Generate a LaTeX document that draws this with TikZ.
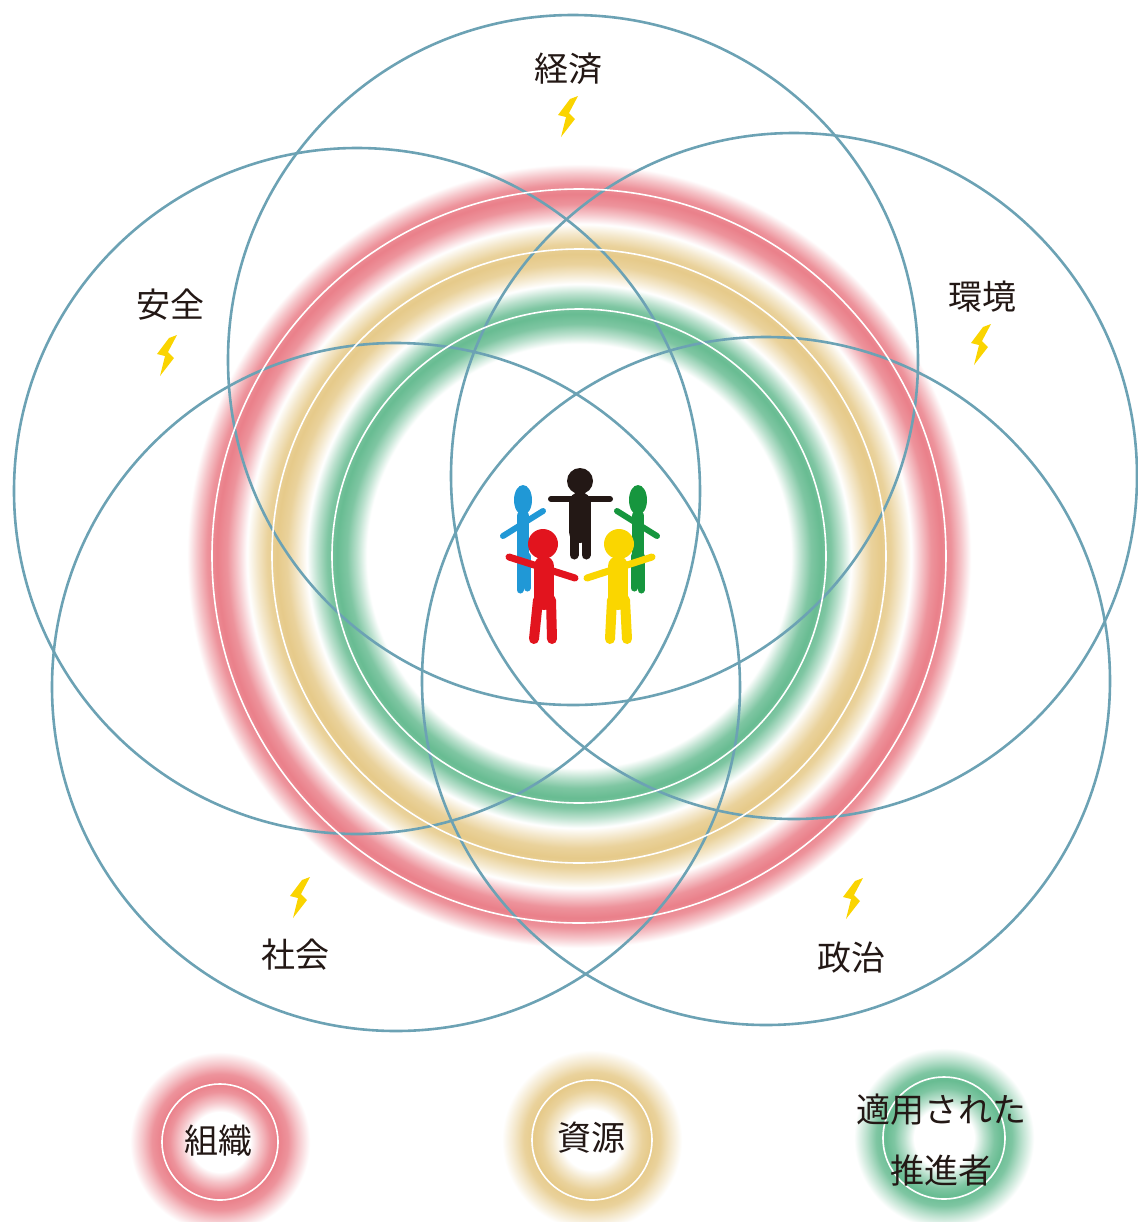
\documentclass[tikz,border=0pt]{standalone}
\usepackage{fontspec}
\setmainfont{Noto Sans CJK JP}

\definecolor{ringblue}{RGB}{108,162,180}
\definecolor{glowred}{RGB}{234,128,138}
\definecolor{glowyellow}{RGB}{230,202,138}
\definecolor{glowgreen}{RGB}{104,188,146}
\definecolor{boltyellow}{RGB}{250,212,0}
\definecolor{figred}{RGB}{226,20,30}
\definecolor{figyellow}{RGB}{250,214,0}
\definecolor{figblue}{RGB}{32,152,214}
\definecolor{figgreen}{RGB}{22,150,62}
\definecolor{figblack}{RGB}{35,24,21}

% three soft bands: green inside, yellow, red outside (25bp = path radius)
\pgfdeclareradialshading{bandglow}{\pgfpointorigin}{%
  color(0bp)=(white); color(12.62bp)=(white);
  color(13.21bp)=(glowgreen!45!white); color(13.81bp)=(glowgreen!85!white);
  color(14.41bp)=(glowgreen); color(15.0bp)=(glowgreen!85!white);
  color(15.6bp)=(glowgreen!45!white); color(16.19bp)=(white);
  color(16.79bp)=(glowyellow!45!white); color(17.38bp)=(glowyellow!85!white);
  color(17.98bp)=(glowyellow); color(18.57bp)=(glowyellow!85!white);
  color(19.17bp)=(glowyellow!45!white); color(19.76bp)=(white);
  color(20.36bp)=(glowred!45!white); color(20.95bp)=(glowred!85!white);
  color(21.55bp)=(glowred); color(22.14bp)=(glowred!85!white);
  color(22.74bp)=(glowred!45!white); color(23.33bp)=(white);
  color(25bp)=(white); color(50bp)=(white)}

% one soft ring for the key below
\newcommand\keyglow[2]{%
  \pgfdeclareradialshading{#1}{\pgfpointorigin}{%
    color(0bp)=(white); color(7.9bp)=(white);
    color(10.5bp)=(#2!45!white); color(13.2bp)=(#2!85!white);
    color(15.3bp)=(#2); color(17.9bp)=(#2!85!white);
    color(20.5bp)=(#2!45!white); color(23.7bp)=(white);
    color(25bp)=(white); color(50bp)=(white)}}
\keyglow{keyred}{glowred}
\keyglow{keyyellow}{glowyellow}
\keyglow{keygreen}{glowgreen}

\begin{document}
\begin{tikzpicture}[x=0.5pt,y=-0.5pt,
  field/.style={draw=ringblue,line width=1.3pt},
  band/.style={draw=white,line width=0.8pt},
  lbl/.style={text=figblack,font=\fontsize{17}{20}\selectfont,inner sep=0pt},
  limb/.style={line width=#1,line cap=round},
  bolt/.pic={\fill[boltyellow] (3,-18) -- (11,-21) -- (2,-4) -- (8,2) -- (-6,20) -- (-1,0) -- (-9,-2) -- cycle;}]
\useasboundingbox (0,0) rectangle (1137,1222);

% glowing bands and the key
\shade[shading=bandglow] (579,556) circle (420);
\shade[shading=keyred] (220,1142) circle (95);
\shade[shading=keyyellow] (592,1140) circle (95);
\shade[shading=keygreen] (944,1138) circle (95);

% five overlapping fields
\draw[field] (573,360) circle (345);
\draw[field] (357,491) circle (343);
\draw[field] (794,476) circle (343);
\draw[field] (396,687) circle (344);
\draw[field] (766,681) circle (344);

\foreach \r in {367,307,247} \draw[band] (579,556) circle (\r);
\draw[band] (220,1142) circle (58);
\draw[band] (592,1140) circle (60);
\draw[band] (944,1138) circle (61);

% labels with bolts
\node[lbl] (keizai) at (568,69) {経済};
\node[lbl] (anzen) at (170,305) {安全};
\node[lbl] (kankyo) at (982,297) {環境};
\node[lbl] (shakai) at (295,955) {社会};
\node[lbl] (seiji) at (851,958) {政治};
\pic at (567,117) {bolt};
\pic at (166,356) {bolt};
\pic at (980,345) {bolt};
\pic at (299,898) {bolt};
\pic at (852,899) {bolt};

\node[lbl] (soshiki) at (218,1141) {組織};
\node[lbl] (shigen) at (591,1138) {資源};
\node[lbl] (tekiyo) at (941,1110) {適用された};
\node[lbl] (suishin) at (941,1171) {推進者};

% people holding hands, back row first
\fill[figblue] (523,500) ellipse (9 and 15);
\draw[figblue,limb=3pt] (503,536) -- (543,511);
\draw[figblue,limb=6pt] (523,516) -- (523,556);
\draw[figblue,limb=3.5pt] (520,556) -- (520,590) (527,556) -- (527,588);

\fill[figgreen] (638,500) ellipse (9 and 15);
\draw[figgreen,limb=3pt] (617,511) -- (657,536);
\draw[figgreen,limb=6pt] (638,516) -- (638,556);
\draw[figgreen,limb=3.5pt] (634,556) -- (634,588) (641,556) -- (641,590);

\fill[figblack] (580,481) circle (13);
\draw[figblack,limb=3pt] (551,499) -- (610,499);
\draw[figblack,limb=11pt] (580,503) -- (580,532);
\draw[figblack,limb=4.5pt] (574,532) -- (574,555) (586,532) -- (586,555);

\fill[figred] (543,544) circle (15);
\draw[figred,limb=3.5pt] (509,557) -- (575,578);
\draw[figred,limb=10pt] (544,566) -- (544,600);
\draw[figred,limb=5pt] (538,600) -- (534,639) (551,600) -- (552,639);

\fill[figyellow] (619,544) circle (15);
\draw[figyellow,limb=3.5pt] (587,578) -- (652,557);
\draw[figyellow,limb=10pt] (618,566) -- (618,600);
\draw[figyellow,limb=5pt] (612,600) -- (610,639) (625,600) -- (627,639);
\end{tikzpicture}
\end{document}
